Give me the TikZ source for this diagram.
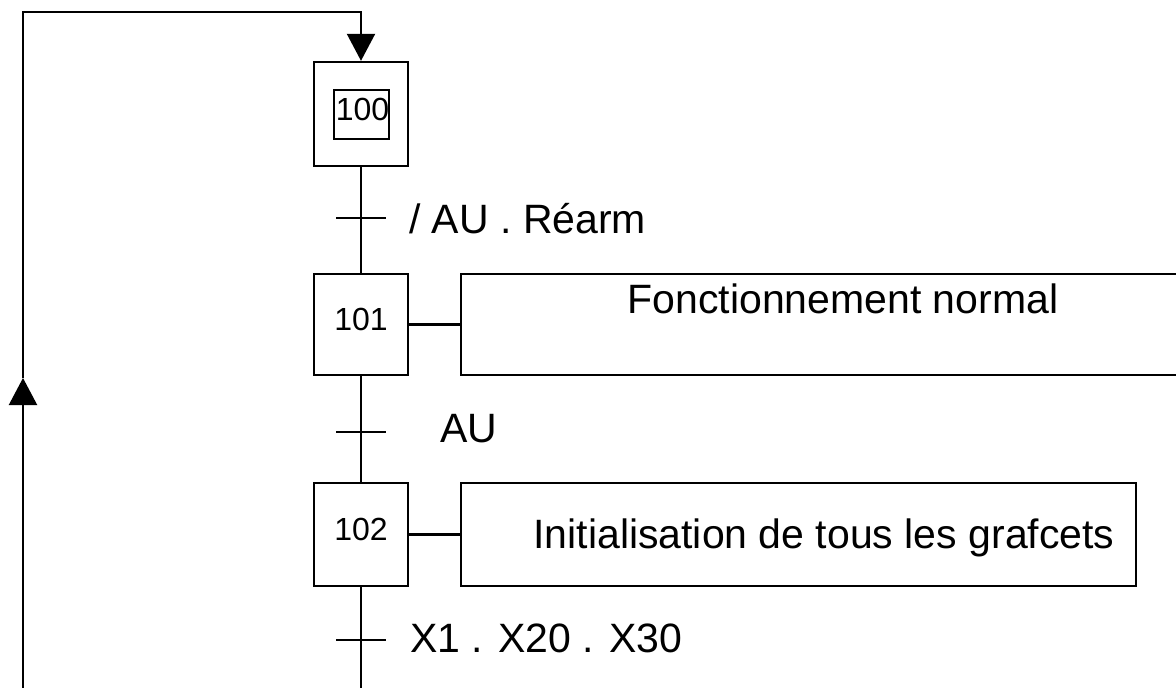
\documentclass[tikz,border=0pt]{standalone}
\usepackage{fontspec}
\setmainfont{Liberation Sans}
\usetikzlibrary{arrows.meta}
\begin{document}
\begin{tikzpicture}[x=1pt,y=-1pt,
  line width=2.2pt,
  numfont/.style={font=\fontsize{32}{32}\selectfont, text height=23pt, text depth=12pt},
  stepbox/.style={draw, line width=2.4pt, minimum width=94pt, inner sep=0pt, numfont},
  actbox/.style={draw, line width=2.4pt, inner sep=0pt},
  lab/.style={font=\fontsize{41}{41}\selectfont, inner sep=0pt, anchor=base west},
  tri/.style={-{Triangle[length=27pt,width=28pt]}}
]
\useasboundingbox (0,0) rectangle (1176,688);
\clip (0,0) rectangle (1176,688);

% steps
\node[stepbox, minimum height=104pt] (s100) at (361,114) {};
\node[draw, line width=2.2pt, minimum width=49pt, minimum height=49pt, inner sep=0pt, numfont] (s100i) at (361.5,114.5) {\hspace*{2pt}100};
\node[stepbox, minimum height=101pt] (s101) at (361,324.5) {101};
\node[stepbox, minimum height=103pt] (s102) at (361,534.5) {102};

% actions
\node[actbox, minimum width=764pt, minimum height=101pt] (a101) at (843,324.5) {};
\node[lab, anchor=base] (t101) at (843,313) {Fonctionnement normal};
\node[actbox, minimum width=675pt, minimum height=103pt] (a102) at (798.5,534.5) {};
\node[lab, anchor=base] (t102) at (824,548) {Initialisation de tous les grafcets};
\draw (s101.east) -- (a101.west);
\draw (s102.east) -- (a102.west);

% coordinates
\coordinate (br) at (361,700);
\coordinate (bl) at (23,700);
\coordinate (am) at (23,378);
\coordinate (tl) at (23,12);
\coordinate (tr) at (361,12);
\coordinate (t1) at (361,218);
\coordinate (t2) at (361,432);
\coordinate (t3) at (361,640);

% main line
\draw (s100.south) -- (s101.north);
\draw (s101.south) -- (s102.north);
\draw (s102.south) -- (br);

% transitions
\draw (t1) ++(-25,0) -- ++(50,0);
\draw (t2) ++(-25,0) -- ++(50,0);
\draw (t3) ++(-25,0) -- ++(50,0);
\node[lab] (c1) at (408,233) {/ AU . Réarm};
\node[lab] (c2) at (439,442) {AU};
\node[lab] (c3) at (409,652) {X1 . X20 . X30};

% return loop
\draw[tri] (bl) -- (am);
\draw[tri] (am) -- (tl) -- (tr) -- (s100.north);
\end{tikzpicture}
\end{document}
